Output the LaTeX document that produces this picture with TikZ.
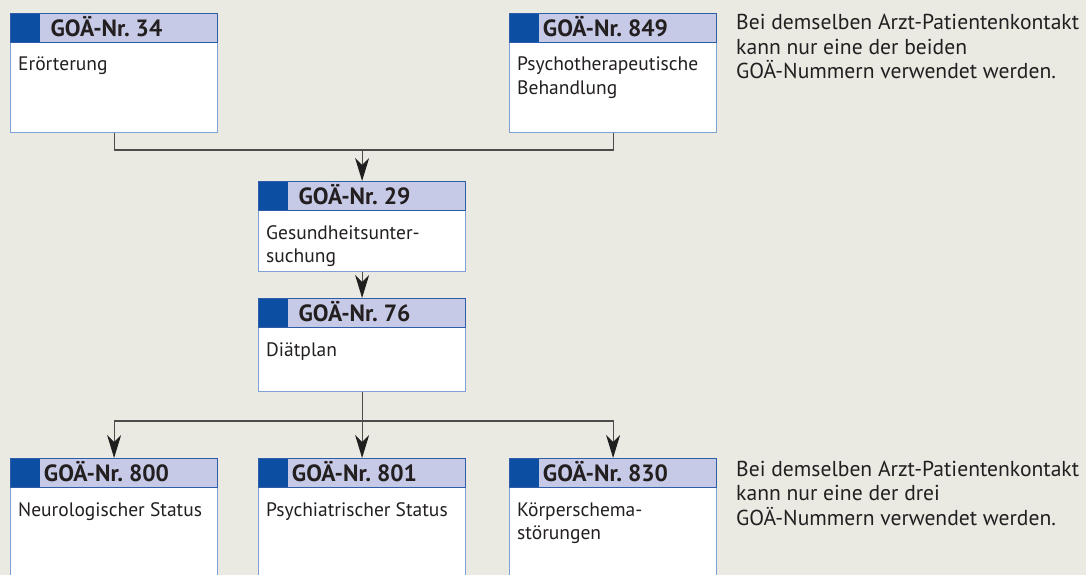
\documentclass[tikz,border=0pt]{standalone}
\usepackage{fontspec}
\setmainfont{PT Sans}
\usetikzlibrary{positioning,arrows.meta}
\definecolor{paper}{HTML}{EAE9E2}
\definecolor{kopffarbe}{HTML}{C7CAE6}
\definecolor{markenfarbe}{HTML}{0B4EA2}
\definecolor{kopfrand}{HTML}{2F5EA9}
\definecolor{feldrand}{HTML}{7EA2D5}
\definecolor{schrift}{HTML}{231F20}
\frenchspacing
\tikzset{
  feld/.style={draw=feldrand, line width=1.2pt, fill=white, anchor=north west, minimum width=207pt, inner sep=0pt},
  kopf/.style={draw=kopfrand, line width=1pt, fill=kopffarbe, anchor=north west, minimum width=207pt, minimum height=29pt, inner sep=0pt,
    path picture={\fill[markenfarbe] (path picture bounding box.north west) rectangle ++(29pt,-29pt);}},
  nummer/.style={anchor=base, inner sep=0pt, text=schrift, font=\fontsize{23.5}{26}\selectfont\bfseries},
  inhalt/.style={anchor=base west, align=left, inner sep=0pt, text=schrift, font=\fontsize{19.5}{23.5}\selectfont},
  hinweis/.style={inhalt, font=\fontsize{21.6}{24.5}\selectfont},
  linie/.style={draw=black!70, line width=1.2pt},
  pfeil/.style={linie, -{Stealth[length=23pt, width=14pt, inset=7pt, color=black!88]}},
}
\begin{document}
\begin{tikzpicture}[x=1pt,y=-1pt]
\fill[paper] (0,0) rectangle (1086,575);
\useasboundingbox (0,0) rectangle (1086,575);

% obere Reihe
\node[feld, minimum height=119pt] (b34) at (10,13) {};
\node[kopf] (k34) at (b34.north west) {};
\node[nummer] (n34) at ([shift={(96.5pt,-23.5pt)}]b34.north west) {GOÄ-Nr. 34};
\node[inhalt] (t34) at ([shift={(8pt,-58pt)}]b34.north west) {Erörterung};

\node[feld, minimum height=119pt] (b849) at (509,13) {};
\node[kopf] (k849) at (b849.north west) {};
\node[nummer] (n849) at ([shift={(96.5pt,-23.5pt)}]b849.north west) {GOÄ-Nr. 849};
\node[inhalt] (t849) at ([shift={(8pt,-81.5pt)}]b849.north west) {Psychotherapeutische\\Behandlung};

% mittlere Kaestchen
\node[feld, minimum height=90pt] (b29) at (258,181) {};
\node[kopf] (k29) at (b29.north west) {};
\node[nummer] (n29) at ([shift={(96.5pt,-23.5pt)}]b29.north west) {GOÄ-Nr. 29};
\node[inhalt] (t29) at ([shift={(8pt,-81.5pt)}]b29.north west) {Gesundheitsunter-\\suchung};

\node[feld, minimum height=93pt] (b76) at (258,298) {};
\node[kopf] (k76) at (b76.north west) {};
\node[nummer] (n76) at ([shift={(96.5pt,-23.5pt)}]b76.north west) {GOÄ-Nr. 76};
\node[inhalt] (t76) at ([shift={(8pt,-58pt)}]b76.north west) {Diätplan};

% untere Reihe
\node[feld, minimum height=130pt] (b800) at (10,458) {};
\node[kopf] (k800) at (b800.north west) {};
\node[nummer] (n800) at ([shift={(96.5pt,-23.5pt)}]b800.north west) {GOÄ-Nr. 800};
\node[inhalt] (t800) at ([shift={(8pt,-58pt)}]b800.north west) {Neurologischer Status};

\node[feld, minimum height=130pt] (b801) at (258,458) {};
\node[kopf] (k801) at (b801.north west) {};
\node[nummer] (n801) at ([shift={(96.5pt,-23.5pt)}]b801.north west) {GOÄ-Nr. 801};
\node[inhalt] (t801) at ([shift={(8pt,-58pt)}]b801.north west) {Psychiatrischer Status};

\node[feld, minimum height=130pt] (b830) at (509,458) {};
\node[kopf] (k830) at (b830.north west) {};
\node[nummer] (n830) at ([shift={(96.5pt,-23.5pt)}]b830.north west) {GOÄ-Nr. 830};
\node[inhalt] (t830) at ([shift={(8pt,-81.5pt)}]b830.north west) {Körperschema-\\störungen};

% Hinweise rechts (Grundlinie der letzten Zeile)
\node[hinweis] (h1) at (736,79) {Bei demselben Arzt-Patientenkontakt\\kann nur eine der beiden\\GOÄ-Nummern verwendet werden.};
\node[hinweis] (h2) at (736,525) {Bei demselben Arzt-Patientenkontakt\\kann nur eine der drei\\GOÄ-Nummern verwendet werden.};

% Verbindungen
\coordinate (j1) at (b29.north |- 0,150);
\coordinate (j2) at (b76.south |- 0,421);
\draw[linie] (b34.south) |- (j1) -| (b849.south);
\draw[pfeil] (j1) -- (b29.north);
\draw[pfeil] (b29.south) -- (b76.north);
\draw[linie] (b76.south) -- (j2);
\draw[pfeil] (j2) -| (b800.north);
\draw[pfeil] (j2) -- (b801.north);
\draw[pfeil] (j2) -| (b830.north);
\end{tikzpicture}
\end{document}
